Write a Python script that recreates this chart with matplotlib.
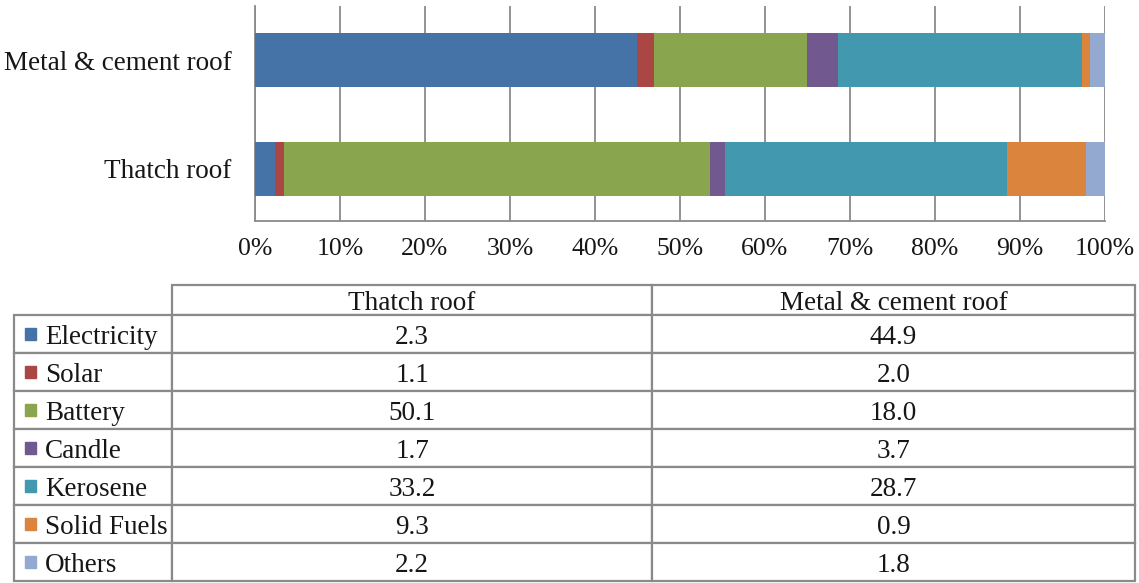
import numpy as np
import matplotlib.pyplot as plt
from matplotlib.table import Table
from matplotlib.patches import Rectangle

plt.rcParams['font.family'] = ['Liberation Serif', 'DejaVu Serif']

# Sources of lighting by roof type (%)
sources = ['Electricity', 'Solar', 'Battery', 'Candle', 'Kerosene', 'Solid Fuels', 'Others']
roofs = ['Thatch roof', 'Metal & cement roof']
thatch = [2.3, 1.1, 50.1, 1.7, 33.2, 9.3, 2.2]
metal = [44.9, 2.0, 18.0, 3.7, 28.7, 0.9, 1.8]
colors = ['#4572A7', '#AA4643', '#89A54E', '#71588F', '#4198AF', '#DB843D', '#93A9CF']
xticks = np.arange(0, 101, 10)

text_col = '#161616'
line_col = '#8a8a8a'

W, H = 1139, 583
fig = plt.figure(figsize=(W / 100, H / 100), dpi=100)

# stacked 100% bar chart
ax = fig.add_axes([255 / W, 1 - 221 / H, 850 / W, 215 / H])
vals = np.array([thatch, metal])
shares = vals / vals.sum(axis=1, keepdims=True) * 100
left = np.zeros(len(roofs))
for i, src in enumerate(sources):
    ax.barh(np.arange(len(roofs)), shares[:, i], left=left, height=0.5,
            color=colors[i], zorder=3, label=src)
    left += shares[:, i]

ax.set_xlim(0, 100)
ax.set_ylim(-0.48, 1.5)
ax.set_xticks(xticks)
ax.set_xticklabels([f'{t}%' for t in xticks])
ax.set_yticks(np.arange(len(roofs)))
ax.set_yticklabels(roofs)
ax.tick_params(axis='x', length=0, pad=12, labelsize=18.5, labelcolor=text_col)
ax.tick_params(axis='y', length=0, pad=17, labelsize=19.5, labelcolor=text_col)
ax.grid(axis='x', color=line_col, linewidth=1.3, zorder=0)
for s in ['top', 'right']:
    ax.spines[s].set_visible(False)
for s in ['left', 'bottom']:
    ax.spines[s].set_color(line_col)
    ax.spines[s].set_linewidth(1.3)

# data table below the chart: label column + one column per roof type
tax = fig.add_axes([14 / W, 1 - 581 / H, 1121 / W, 296 / H])
tax.axis('off')
tbl = Table(tax, bbox=[0, 0, 1, 1])
col_w = [158, 480, 483]
head_h, row_h = 30, 38
for j, name in enumerate(roofs):
    tbl.add_cell(0, j + 1, width=col_w[j + 1], height=head_h, text=name, loc='center')
for i, src in enumerate(sources):
    c = tbl.add_cell(i + 1, 0, width=col_w[0], height=row_h, text=src, loc='left')
    c.PAD = 31 / col_w[0]
    tbl.add_cell(i + 1, 1, width=col_w[1], height=row_h, text=f'{thatch[i]:.1f}', loc='center')
    tbl.add_cell(i + 1, 2, width=col_w[2], height=row_h, text=f'{metal[i]:.1f}', loc='center')
tbl.auto_set_font_size(False)
tbl.set_fontsize(19.5)
for cell in tbl.get_celld().values():
    cell.set_edgecolor(line_col)
    cell.set_linewidth(1.6)
    cell.get_text().set_color(text_col)
    cell.get_text().set_va('center_baseline')
tax.add_table(tbl)

# colour keys in the row labels
fig.canvas.draw()
kw, kh = 11 / 1121, 12 / 296
for i in range(len(sources)):
    c = tbl[i + 1, 0]
    x0 = c.get_x() + c.get_width() * 11 / col_w[0]
    y0 = c.get_y() + c.get_height() / 2 - kh / 2
    tax.add_patch(Rectangle((x0, y0), kw, kh, color=colors[i],
                            transform=tax.transAxes, zorder=5))

fig.savefig('out.png', dpi=100)
